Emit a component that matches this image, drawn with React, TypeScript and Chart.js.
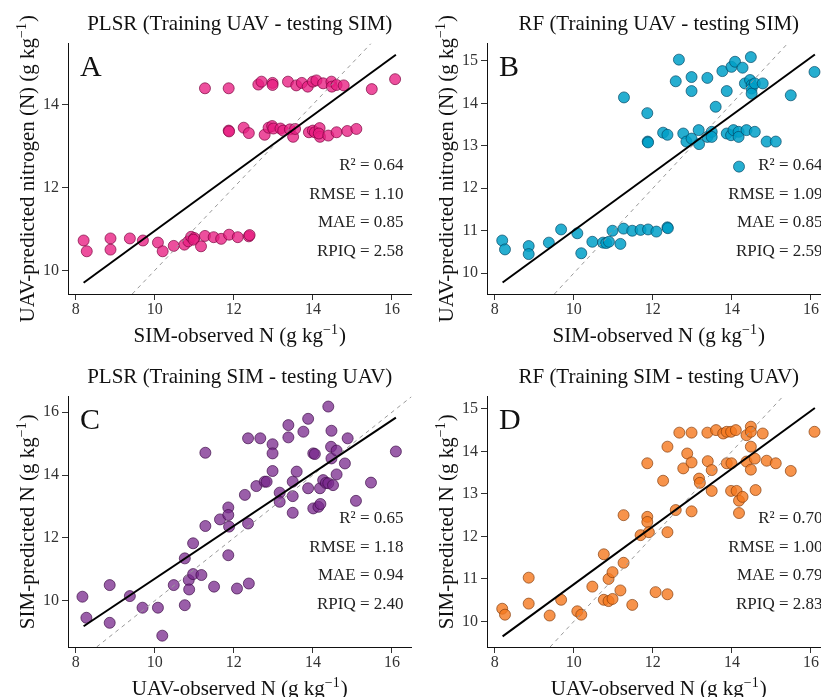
import React, { useEffect, useRef } from "react";
import { Chart, registerables } from "chart.js";

Chart.register(...registerables);

const SERIF = '"Liberation Serif", "Times New Roman", serif';

// ---- shared axis setup ----
const X_RANGE = [7.805, 16.495];
const X_TICKS = [8, 10, 12, 14, 16];

// ---- A: PLSR, training UAV - testing SIM ----
const A_OBS = [
  8.2, 8.28, 8.88, 8.88, 9.37, 9.7, 10.08, 10.2, 10.48, 10.75, 10.85, 10.92, 11.0, 10.98, 11.17, 11.27, 11.49, 11.68, 11.88, 12.1, 12.38, 12.4,
  11.87, 11.88, 12.25, 12.38, 12.78, 12.88, 12.97, 13.0, 13.18, 13.25, 13.42, 13.5, 13.55, 13.9, 14.0, 14.05, 14.17, 14.18, 14.15, 14.39, 14.6, 14.87, 15.1,
  11.27, 11.87, 12.62, 12.7, 12.98, 12.98, 13.37, 13.58, 13.72, 13.87, 14.0, 14.09, 14.26, 14.47, 14.48, 14.6, 14.78, 15.49, 16.08,
];
const A_PRED = [
  10.72, 10.46, 10.77, 10.5, 10.77, 10.72, 10.67, 10.46, 10.59, 10.62, 10.7, 10.81, 10.78, 10.74, 10.58, 10.83, 10.8, 10.76, 10.86, 10.8, 10.82, 10.85,
  13.37, 13.35, 13.44, 13.31, 13.27, 13.44, 13.48, 13.42, 13.42, 13.37, 13.4, 13.22, 13.41, 13.33, 13.37, 13.33, 13.43, 13.22, 13.3, 13.25, 13.33, 13.36, 13.41,
  14.39, 14.39, 14.48, 14.55, 14.52, 14.47, 14.55, 14.46, 14.52, 14.43, 14.55, 14.58, 14.51, 14.55, 14.43, 14.47, 14.46, 14.37, 14.61,
];
const A_FIT_X = [8.2, 16.1];
const A_FIT_Y = [9.7, 15.2];
const A_Y_RANGE = [9.43, 15.47];
const A_Y_TICKS = [10, 12, 14];
const A_STATS = ["R\u00B2 = 0.64", "RMSE = 1.10", "MAE = 0.85", "RPIQ = 2.58"];

// ---- B: RF, training UAV - testing SIM ----
const B_OBS = [
  8.19, 8.26, 8.86, 8.86, 9.37, 9.68, 10.09, 10.19, 10.47, 10.74, 10.82, 10.89, 10.98, 11.18, 11.26, 11.48, 11.69, 11.88, 12.09, 12.37, 12.38,
  11.87, 11.88, 11.86, 12.26, 12.37, 12.77, 12.85, 12.98, 13.16, 13.17, 13.38, 13.49, 13.49, 13.87, 13.98, 14.04, 14.17, 14.17, 14.37, 14.58, 14.88, 15.11, 14.18,
  11.27, 12.66, 12.58, 12.98, 12.98, 13.38, 13.59, 13.76, 13.87, 13.99, 14.08, 14.27, 14.48, 14.33, 14.46, 14.5, 14.5, 14.5, 14.58, 14.78, 15.49, 16.09,
];
const B_PRED = [
  10.77, 10.56, 10.64, 10.45, 10.72, 11.03, 10.94, 10.47, 10.74, 10.72, 10.71, 10.74, 11.0, 10.69, 11.05, 11.0, 11.02, 11.03, 10.98, 11.08, 11.06,
  13.1, 13.08, 13.77, 13.31, 13.26, 13.29, 13.1, 13.17, 13.37, 13.04, 13.21, 13.33, 13.21, 13.29, 13.25, 13.37, 13.33, 13.21, 13.37, 13.33, 13.1, 13.1, 12.51,
  14.14, 15.03, 14.52, 14.62, 14.29, 14.6, 13.92, 14.76, 14.29, 14.86, 14.98, 14.84, 15.09, 14.47, 14.55, 14.43, 14.35, 14.23, 14.47, 14.47, 14.19, 14.74,
];
const B_FIT_X = [8.2, 16.1];
const B_FIT_Y = [9.78, 15.15];
const B_Y_RANGE = [9.51, 15.41];
const B_Y_TICKS = [10, 11, 12, 13, 14, 15];
const B_STATS = ["R\u00B2 = 0.64", "RMSE = 1.09", "MAE = 0.85", "RPIQ = 2.59"];

// ---- C: PLSR, training SIM - testing UAV ----
const C_OBS = [
  8.17, 8.27, 8.86, 8.86, 9.37, 9.69, 10.08, 10.19, 10.48, 10.76, 10.76, 10.86, 10.87, 10.97, 10.97, 11.18, 11.28, 11.28, 11.5, 11.65,
  11.86, 11.86, 11.88, 11.86, 12.08, 12.28, 12.36, 12.38, 12.36, 12.57, 12.67, 12.78, 12.83, 12.98, 12.98, 12.98, 13.16, 13.16, 13.38, 13.38,
  13.49, 13.49, 13.49, 13.59, 13.76, 13.88, 13.88, 14.01, 14.05, 14.01, 14.14, 14.19, 14.18, 14.26, 14.33, 14.39, 14.39, 14.47, 14.46, 14.47,
  14.51, 14.6, 14.6, 14.81, 14.88, 15.09, 15.47, 16.1,
];
const C_PRED = [
  10.13, 9.46, 10.5, 9.3, 10.15, 9.78, 9.78, 8.89, 10.5, 9.86, 11.35, 10.66, 10.36, 11.83, 10.85, 10.82, 14.71, 12.38, 10.45, 12.59,
  12.97, 12.73, 12.36, 11.45, 10.39, 13.37, 12.46, 10.55, 15.17, 13.65, 15.17, 13.79, 13.79, 14.98, 14.69, 14.13, 13.44, 13.15, 15.59, 15.2,
  13.79, 13.33, 12.8, 14.11, 15.38, 15.79, 13.58, 14.69, 14.67, 12.94, 12.99, 13.08, 13.58, 13.84, 13.75, 13.74, 16.18, 15.41, 14.9, 14.53,
  13.68, 14.78, 14.02, 14.37, 15.17, 13.18, 13.76, 14.75,
];
const C_FIT_X = [8.2, 16.1];
const C_FIT_Y = [9.19, 15.83];
const C_Y_RANGE = [8.53, 16.5];
const C_Y_TICKS = [10, 12, 14, 16];
const C_STATS = ["R\u00B2 = 0.65", "RMSE = 1.18", "MAE = 0.94", "RPIQ = 2.40"];

// ---- D: RF, training SIM - testing UAV ----
const D_OBS = [
  8.19, 8.26, 8.86, 8.86, 9.39, 9.68, 10.09, 10.19, 10.47, 10.76, 10.76, 10.88, 10.98, 10.88, 10.98, 11.18, 11.26, 11.26, 11.48, 11.69,
  11.86, 11.86, 11.86, 11.9, 12.07, 12.26, 12.37, 12.37, 12.37, 12.58, 12.67, 12.77, 12.87, 12.98, 12.98, 12.98, 13.17, 13.19, 13.38, 13.39,
  13.49, 13.49, 13.6, 13.78, 13.87, 13.98, 14.1, 13.87, 13.99, 13.98, 14.12, 14.18, 14.18, 14.27, 14.37, 14.48, 14.48, 14.48, 14.37, 14.48,
  14.58, 14.6, 14.78, 14.88, 15.11, 15.49, 16.09,
];
const D_PRED = [
  10.3, 10.16, 11.03, 10.42, 10.14, 10.51, 10.24, 10.16, 10.82, 11.58, 10.51, 10.48, 10.53, 11.0, 11.16, 10.73, 12.5, 11.38, 10.39, 12.03,
  13.72, 12.46, 12.34, 12.1, 10.69, 13.31, 14.11, 12.1, 10.64, 12.62, 14.44, 13.6, 13.95, 14.44, 13.74, 12.59, 13.36, 13.26, 14.44, 13.77,
  13.56, 13.07, 14.5, 14.42, 14.46, 14.46, 14.5, 13.72, 13.72, 13.07, 13.07, 12.84, 12.55, 12.93, 14.38, 14.58, 14.46, 14.11, 13.76, 13.57,
  13.83, 13.09, 14.42, 13.78, 13.72, 13.54, 14.46,
];
const D_FIT_X = [8.2, 16.1];
const D_FIT_Y = [9.65, 15.02];
const D_Y_RANGE = [9.4, 15.29];
const D_Y_TICKS = [10, 11, 12, 13, 14, 15];
const D_STATS = ["R\u00B2 = 0.70", "RMSE = 1.00", "MAE = 0.79", "RPIQ = 2.83"];

type PanelSpec = {
  letter: string;
  title: string;
  xTitle: string;
  yTitle: string;
  obs: number[];
  pred: number[];
  fitX: number[];
  fitY: number[];
  yRange: number[];
  yTicks: number[];
  stats: string[];
  fill: string;
  stroke: string;
  left: number;
  top: number;
};

const CANVAS_W = 420;
const CANVAS_H = 352;

// label text with a "g kg⁻¹" style superscript unit, centred on (x, y)
function drawUnitLabel(ctx: CanvasRenderingContext2D, base: string, x: number, y: number) {
  const mainFont = `21px ${SERIF}`;
  const supFont = `14px ${SERIF}`;
  const head = base + " (g kg";
  const sup = "\u22121";
  const tail = ")";
  ctx.font = mainFont;
  const wHead = ctx.measureText(head).width;
  const wTail = ctx.measureText(tail).width;
  ctx.font = supFont;
  const wSup = ctx.measureText(sup).width;
  const total = wHead + wSup + wTail + 1;
  let cx = x - total / 2;
  ctx.textAlign = "left";
  ctx.textBaseline = "alphabetic";
  ctx.font = mainFont;
  ctx.fillText(head, cx, y);
  cx += wHead;
  ctx.font = supFont;
  ctx.fillText(sup, cx, y - 8);
  cx += wSup + 1;
  ctx.font = mainFont;
  ctx.fillText(tail, cx, y);
}

const panelDecor = {
  id: "panelDecor",
  afterDraw(chart: any, _args: any, opts: any) {
    const { ctx, chartArea: ca } = chart;
    const cx = (ca.left + ca.right) / 2;
    ctx.save();
    ctx.fillStyle = "#111";
    ctx.textBaseline = "alphabetic";

    ctx.font = `21px ${SERIF}`;
    ctx.textAlign = "center";
    ctx.fillText(opts.title, cx, ca.top - 14);

    ctx.font = `30px ${SERIF}`;
    ctx.textAlign = "left";
    ctx.fillText(opts.letter, ca.left + 12, ca.top + 32);

    ctx.fillStyle = "#222";
    ctx.font = `17px ${SERIF}`;
    ctx.textAlign = "right";
    opts.stats.forEach((s: string, i: number) => {
      ctx.fillText(s, ca.right - 8, ca.bottom - 124 + i * 28.6);
    });

    ctx.fillStyle = "#111";
    drawUnitLabel(ctx, opts.xTitle, cx, ca.bottom + 47.5);

    ctx.translate(ca.left - 34, (ca.top + ca.bottom) / 2);
    ctx.rotate(-Math.PI / 2);
    drawUnitLabel(ctx, opts.yTitle, 0, 0);
    ctx.restore();
  },
};

function Panel({ spec }: { spec: PanelSpec }) {
  const ref = useRef<HTMLCanvasElement | null>(null);

  useEffect(() => {
    if (!ref.current) return;
    const points = spec.obs.map((x, i) => ({ x, y: spec.pred[i] }));
    const fit = spec.fitX.map((x, i) => ({ x, y: spec.fitY[i] }));
    const oneToOne = spec.yRange.map((v) => ({ x: v, y: v }));
    const chart = new Chart(ref.current, {
      type: "scatter",
      data: {
        datasets: [
          {
            data: points,
            backgroundColor: spec.fill,
            borderColor: spec.stroke,
            borderWidth: 0.8,
            pointRadius: 5.5,
            order: 3,
          },
          {
            data: oneToOne,
            showLine: true,
            borderColor: "#999",
            borderWidth: 1,
            borderDash: [4, 4],
            pointRadius: 0,
            order: 2,
          },
          {
            data: fit,
            showLine: true,
            borderColor: "#000",
            borderWidth: 2,
            pointRadius: 0,
            order: 1,
          },
        ],
      },
      options: {
        responsive: false,
        animation: false,
        devicePixelRatio: 1,
        layout: { padding: { top: 43.5, right: 8.5, left: 0, bottom: 0 } },
        plugins: {
          legend: { display: false },
          tooltip: { enabled: false },
          panelDecor: {
            title: spec.title,
            letter: spec.letter,
            stats: spec.stats,
            xTitle: spec.xTitle,
            yTitle: spec.yTitle,
          },
        } as any,
        scales: {
          x: {
            type: "linear",
            min: X_RANGE[0],
            max: X_RANGE[1],
            afterBuildTicks: (s: any) => {
              s.ticks = X_TICKS.map((v) => ({ value: v }));
            },
            afterFit: (s: any) => {
              s.height = CANVAS_H - 294;
            },
            grid: { display: true, drawOnChartArea: false, drawTicks: true, tickLength: 6, color: "#333" },
            border: { display: true, color: "#111", width: 1 },
            ticks: { color: "#333", font: { family: SERIF, size: 16 }, padding: 0, maxRotation: 0 },
          },
          y: {
            type: "linear",
            min: spec.yRange[0],
            max: spec.yRange[1],
            afterBuildTicks: (s: any) => {
              s.ticks = spec.yTicks.map((v) => ({ value: v }));
            },
            afterFit: (s: any) => {
              s.width = 68;
            },
            grid: { display: true, drawOnChartArea: false, drawTicks: true, tickLength: 6, color: "#333" },
            border: { display: true, color: "#111", width: 1 },
            ticks: { color: "#333", font: { family: SERIF, size: 16 }, padding: 3 },
          },
        },
      },
      plugins: [panelDecor],
    } as any);
    return () => chart.destroy();
  }, [spec]);

  return (
    <canvas
      ref={ref}
      width={CANVAS_W}
      height={CANVAS_H}
      style={{ position: "absolute", left: spec.left, top: spec.top, width: CANVAS_W, height: CANVAS_H }}
    />
  );
}

const PANELS: PanelSpec[] = [
  {
    letter: "A",
    title: "PLSR (Training UAV - testing SIM)",
    xTitle: "SIM-observed N",
    yTitle: "UAV-predicted nitrogen (N)",
    obs: A_OBS,
    pred: A_PRED,
    fitX: A_FIT_X,
    fitY: A_FIT_Y,
    yRange: A_Y_RANGE,
    yTicks: A_Y_TICKS,
    stats: A_STATS,
    fill: "rgba(232, 30, 130, 0.78)",
    stroke: "rgba(120, 0, 60, 0.85)",
    left: 0,
    top: 0,
  },
  {
    letter: "B",
    title: "RF (Training UAV - testing SIM)",
    xTitle: "SIM-observed N",
    yTitle: "UAV-predicted nitrogen (N)",
    obs: B_OBS,
    pred: B_PRED,
    fitX: B_FIT_X,
    fitY: B_FIT_Y,
    yRange: B_Y_RANGE,
    yTicks: B_Y_TICKS,
    stats: B_STATS,
    fill: "rgba(0, 160, 200, 0.85)",
    stroke: "rgba(0, 70, 100, 0.85)",
    left: 419,
    top: 0,
  },
  {
    letter: "C",
    title: "PLSR (Training SIM - testing UAV)",
    xTitle: "UAV-observed N",
    yTitle: "SIM-predicted N",
    obs: C_OBS,
    pred: C_PRED,
    fitX: C_FIT_X,
    fitY: C_FIT_Y,
    yRange: C_Y_RANGE,
    yTicks: C_Y_TICKS,
    stats: C_STATS,
    fill: "rgba(120, 40, 140, 0.75)",
    stroke: "rgba(60, 10, 70, 0.85)",
    left: 0,
    top: 353,
  },
  {
    letter: "D",
    title: "RF (Training SIM - testing UAV)",
    xTitle: "UAV-observed N",
    yTitle: "SIM-predicted N",
    obs: D_OBS,
    pred: D_PRED,
    fitX: D_FIT_X,
    fitY: D_FIT_Y,
    yRange: D_Y_RANGE,
    yTicks: D_Y_TICKS,
    stats: D_STATS,
    fill: "rgba(245, 120, 30, 0.8)",
    stroke: "rgba(130, 60, 10, 0.85)",
    left: 419,
    top: 353,
  },
];

export default function App() {
  return (
    <div
      style={{
        position: "absolute",
        left: 0,
        top: 0,
        width: 821,
        height: 697,
        overflow: "hidden",
        background: "#fff",
      }}
    >
      {PANELS.map((p) => (
        <Panel key={p.letter} spec={p} />
      ))}
    </div>
  );
}
